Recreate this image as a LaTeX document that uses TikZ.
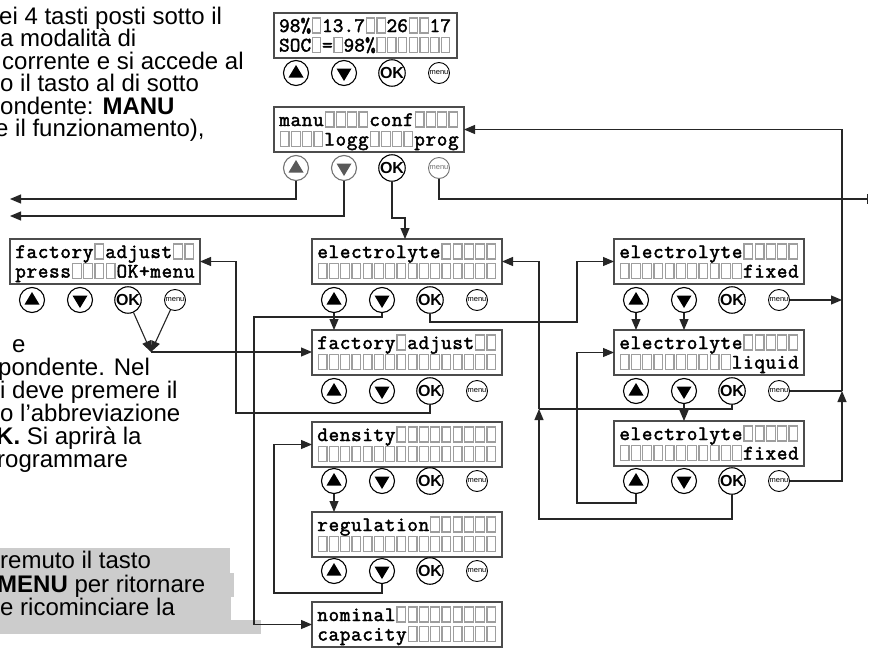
\documentclass[tikz,border=0pt]{standalone}
\usepackage{fontspec}
\setmainfont{Liberation Sans}
\newfontfamily\lcdfont{Latin Modern Mono}[FakeBold=2.2]
\usetikzlibrary{arrows.meta}
\def\lcdpitch{11.25}
\makeatletter
\newcount\lcd@k
\newcommand\lcdrow[3]{\def\lcd@x{#1}\def\lcd@y{#2}\lcd@k=0 \lcd@loop#3\relax}
\def\lcd@loop#1{\ifx#1\relax\else\lcd@cell#1\advance\lcd@k by 1 \expandafter\lcd@loop\fi}
\def\lcd@cell#1{\if*\noexpand#1\lcd@blank\else\lcd@char{#1}\fi}
\def\lcd@blank{\path[lcdblank] ({\lcd@x+5+\the\lcd@k*\lcdpitch+1.2},{\lcd@y-14}) rectangle ++({\lcdpitch-2.45},15);}
\def\lcd@char#1{\node[lcdchar] at ({\lcd@x+5+\the\lcd@k*\lcdpitch+\lcdpitch/2},{\lcd@y}) {#1};}
\makeatother
\newcommand\lcdpanel[6][190pt]{%
  \node[lcdbox,minimum width=#1] (#2) at (#3,#4) {};
  \lcdrow{#3}{#4+19}{#5}%
  \lcdrow{#3}{#4+38.5}{#6}}
\newcommand\btnrow[5]{% prefix, box left x, centre y, outline colour, triangle colour
  \node[btn,draw=#4] (#1u) at ({#2+22},#3) {};
  \fill[#5] ({#2+22-7.5},{#3+4.5}) -- ({#2+22+7.5},{#3+4.5}) -- ({#2+22},{#3-8}) -- cycle;
  \node[btn,draw=#4] (#1d) at ({#2+70},#3) {};
  \fill[#5] ({#2+70-7.5},{#3-4.5}) -- ({#2+70+7.5},{#3-4.5}) -- ({#2+70},{#3+8}) -- cycle;
  \node[okbtn] (#1o) at ({#2+118},#3) {OK};
  \node[menubtn,draw=#4,text=#4] (#1m) at ({#2+165},#3) {menu};}
\begin{document}
\begin{tikzpicture}[x=1pt,y=-1pt,
  conn/.style={line width=1.1pt, draw=black!85},
  arr/.style={conn, -{Triangle[length=11pt,width=9pt]}},
  lcdbox/.style={draw=black!70, line width=1.3pt, fill=white, anchor=north west,
    minimum height=45pt, inner sep=0pt, outer sep=0pt},
  lcdblank/.style={draw=black!38, line width=1.1pt},
  lcdchar/.style={anchor=base, inner sep=0pt, font=\lcdfont\fontsize{20.5}{20.5}\selectfont},
  btn/.style={circle, line width=1.1pt, fill=white, minimum size=25pt, inner sep=0pt},
  okbtn/.style={circle, draw=black, line width=1.1pt, fill=white, minimum size=24pt, inner sep=0pt,
    font=\bfseries\fontsize{16}{16}\selectfont},
  menubtn/.style={circle, line width=0.9pt, fill=white, minimum size=21pt, inner sep=0pt,
    font=\fontsize{7.5}{7.5}\selectfont},
  para/.style={anchor=base west, inner sep=0pt, font=\fontsize{24}{27}\selectfont},
  hl/.style={fill=black!20}]
\useasboundingbox (0,0) rectangle (870,648);
\fill[white] (0,0) rectangle (870,648);

% grey highlighted note
\fill[hl] (0,548) rectangle (230,573);
\fill[hl] (0,573) rectangle (234,597);
\fill[hl] (0,597) rectangle (231,620);
\fill[hl] (0,620) rectangle (261,634);

% texts
\node[para] (t1) at (-1,24) {ei 4 tasti posti sotto il};
\node[para] (t2) at (0,46.5) {a modalità di};
\node[para] (t3) at (2,69) {corrente e si accede al};
\node[para] (t4) at (0,91.5) {o il tasto al di sotto};
\node[para] (t5) at (0,114) {ondente: \textbf{MANU}};
\node[para] (t6) at (-5,136.5) {e il funzionamento),};
\node[para] (u1) at (12,352) {e};
\node[para] (u2) at (-2,375) {pondente. Nel};
\node[para] (u3) at (0,398) {i deve premere il};
\node[para] (u4) at (0,421) {o l’abbreviazione};
\node[para] (u5) at (-4,444) {\textbf{K.} Si aprirà la};
\node[para] (u6) at (-3,467) {rogrammare};
\node[para] (g1) at (0,568) {remuto il tasto};
\node[para] (g2) at (-3,592) {\textbf{MENU} per ritornare};
\node[para] (g3) at (0,615) {e ricominciare la};

% panels
\def\lcdpitch{10.75}
\lcdpanel[183pt]{disp}{274}{13}{98\%*13.7**26**17}{SOC*=*98\%*******}
\def\lcdpitch{11.25}
\btnrow{t}{274}{73}{black}{black}
\lcdpanel{manu}{274}{107}{manu****conf****}{****logg****prog}
\btnrow{m}{274}{168}{black!55}{black!65}
\lcdpanel{lf}{10}{239}{factory*adjust**}{press****OK+menu}
\btnrow{lf}{10}{300}{black}{black}
\lcdpanel{el}{312}{239}{electrolyte*****}{****************}
\btnrow{el}{312}{300}{black}{black}
\lcdpanel{fa}{312}{330}{factory*adjust**}{****************}
\btnrow{fa}{312}{391}{black}{black}
\lcdpanel{de}{312}{422}{density*********}{****************}
\btnrow{de}{312}{481}{black}{black}
\lcdpanel{re}{312}{512}{regulation******}{****************}
\btnrow{re}{312}{571}{black}{black}
\lcdpanel{nc}{312}{602}{nominal*********}{capacity********}
\lcdpanel{fxa}{614}{239}{electrolyte*****}{***********fixed}
\btnrow{fxa}{614}{300}{black}{black}
\lcdpanel{lq}{614}{330}{electrolyte*****}{**********liquid}
\btnrow{lq}{614}{391}{black}{black}
\lcdpanel{fxb}{614}{421}{electrolyte*****}{***********fixed}
\btnrow{fxb}{614}{481}{black}{black}

% connectors
\coordinate (aL1) at (10,199);
\coordinate (aL2) at (10,216);
\coordinate (jOK) at (405,218);
\coordinate (rEnd) at (868,199);
\coordinate (vR) at (842,391);
\coordinate (vM) at (539,409);
\coordinate (bM) at (539,519);
\coordinate (c1) at (577,503);
\coordinate (c2) at (577,322);
\coordinate (c3) at (254,317);
\coordinate (c4) at (236,413);
\coordinate (conv) at (151,352);
\coordinate (c5) at (274,593);

\draw[arr] (mu) |- (aL1);
\draw[arr] (md) |- (aL2);
\draw[arr] (mo) |- (jOK) -- (jOK |- el.north);
\draw[conn,-{Bar[width=10pt]}] (mm) |- (rEnd);
\draw[arr] (fxbm) -| (vR);
\draw[arr] (vR) |- (manu.east);
\draw[conn] (lqm) -- (lqm -| vR);
\draw[arr] (fxam) -- (fxam -| vR);
\draw[arr] (fxau) -- (fxau |- lq.north);
\draw[arr] (fxad) -- (fxad |- lq.north);
\draw[arr] (lqd) -- (lqd |- fxb.north);
\draw[conn] (lqo) |- (vM);
\draw[arr] (fxbo) |- (bM) -- (vM);
\draw[arr] (vM) |- (el.east);
\draw[arr] (fxbu) |- (c1) |- (lq.west);
\draw[arr] (elo) |- (c2) |- (fxa.west);
\draw[arr] (elu) -- (elu |- fa.north);
\draw[arr] (eld) |- (c3) |- (nc.west);
\draw[arr] (fao) |- (c4) |- (lf.east);
\draw[arr] (lfo) -- (conv);
\draw[arr] (lfm) -- (conv);
\draw[arr] (conv) -- (conv -| fa.west);
\draw[arr] (deu) -- (deu |- re.north);
\draw[arr] (red) |- (c5) |- (de.west);
\end{tikzpicture}
\end{document}
